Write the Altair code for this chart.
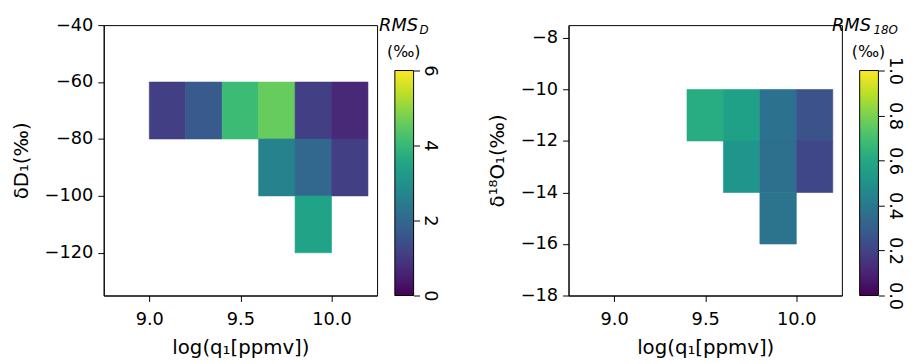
import altair as alt
import pandas as pd

# ---------------- data ----------------
# left panel: bins of log(q1) (lower edge), deltaD1 (lower edge), RMS_D
q_left = [9.0, 9.2, 9.4, 9.6, 9.8, 10.0, 9.6, 9.8, 10.0, 9.8]
dD_left = [-80, -80, -80, -80, -80, -80, -100, -100, -100, -120]
rms_D = [1.1, 1.67, 4.1, 4.6, 1.1, 0.67, 2.67, 1.97, 1.1, 3.47]

# right panel: bins of log(q1) (lower edge), delta18O1 (lower edge), RMS_18O
q_right = [9.4, 9.6, 9.8, 10.0, 9.6, 9.8, 10.0, 9.8]
d18O_right = [-12, -12, -12, -12, -14, -14, -14, -16]
rms_18O = [0.62, 0.57, 0.376, 0.252, 0.52, 0.368, 0.21, 0.38]

q_bin = 0.2
dD_bin = 20
d18O_bin = 2

x_ticks = [9.0, 9.5, 10.0]
dD_ticks = [-40, -60, -80, -100, -120]
d18O_ticks = [-8, -10, -12, -14, -16, -18]
cb_ticks_D = [0, 2, 4, 6]
cb_ticks_O = [0.0, 0.2, 0.4, 0.6, 0.8, 1.0]

viridis = ["#440154", "#482475", "#414487", "#355f8d", "#2a788e", "#21918c",
           "#22a884", "#44bf70", "#7ad151", "#bddf26", "#fde725"]

FONT = "DejaVu Sans"
W, H = 277, 274


def panel(q, d, rms, dbin, ydom, yticks, ytitle, cdom, cticks, cfmt, sub,
          rms_x, sub_x):
    df = pd.DataFrame({"q": q, "d": d, "rms": rms})
    df["q2"] = df["q"] + q_bin
    df["d2"] = df["d"] + dbin

    cscale = alt.Scale(scheme="viridis", domain=cdom)
    heat = alt.Chart(df).mark_rect(strokeWidth=0.6).encode(
        x=alt.X("q:Q",
                scale=alt.Scale(domain=[8.75, 10.25], nice=False, zero=False),
                axis=alt.Axis(values=x_ticks, format=".1f",
                              title="log(q₁[ppmv])", labelPadding=9,
                              titlePadding=10)),
        x2="q2:Q",
        y=alt.Y("d:Q",
                scale=alt.Scale(domain=ydom, nice=False, zero=False),
                axis=alt.Axis(values=yticks, title=ytitle, orient="left",
                              labelPadding=5, titlePadding=13)),
        y2="d2:Q",
        color=alt.Color("rms:Q", scale=cscale, legend=None),
        stroke=alt.Stroke("rms:Q", scale=cscale, legend=None),
    )

    grad = alt.Gradient(
        gradient="linear",
        stops=[alt.GradientStop(color=c, offset=i / (len(viridis) - 1))
               for i, c in enumerate(viridis)],
        x1=0, y1=1, x2=0, y2=0,
    )
    cbdf = pd.DataFrame({"lo": [cdom[0]], "hi": [cdom[1]]})
    cbase = alt.Chart(cbdf)
    cbar = cbase.mark_rect(fill=grad, stroke="black", strokeWidth=1).encode(
        x=alt.XDatum(0, scale=alt.Scale(domain=[0, 1], range=[295, 314]),
                     axis=None),
        x2=alt.X2Datum(1),
        y=alt.Y("lo:Q",
                scale=alt.Scale(domain=cdom, range=[274, 46], nice=False,
                                zero=False),
                axis=alt.Axis(orient="right", offset=37, values=cticks,
                              format=cfmt, labelAngle=90, title=None,
                              domain=False, labelAlign="center",
                              labelBaseline="bottom", labelPadding=1)),
        y2="hi:Q",
    )

    t_rms = cbase.mark_text(text="RMS", font=FONT, fontSize=18,
                            fontStyle="italic", align="left",
                            baseline="alphabetic").encode(
        x=alt.value(rms_x), y=alt.value(6))
    t_sub = cbase.mark_text(text=sub, font=FONT, fontSize=12,
                            fontStyle="italic", align="left",
                            baseline="alphabetic").encode(
        x=alt.value(sub_x), y=alt.value(9))
    t_unit = cbase.mark_text(text="(‰)", font=FONT, fontSize=16,
                             align="center", baseline="alphabetic").encode(
        x=alt.value(304), y=alt.value(32))

    return alt.layer(heat, cbar, t_rms, t_sub, t_unit).resolve_scale(
        x="independent", y="independent"
    ).properties(width=W, height=H)


left = panel(q_left, dD_left, rms_D, dD_bin, [-135, -40], dD_ticks,
             "δD₁(‰)", [0, 6], cb_ticks_D, "d", "D", 279, 320)
right = panel(q_right, d18O_right, rms_18O, d18O_bin, [-18, -7.5],
              d18O_ticks, "δ¹⁸O₁(‰)", [0, 1], cb_ticks_O, ".1f", "18O",
              267, 309)

chart = alt.hconcat(left, right, spacing=48).resolve_scale(
    color="independent", stroke="independent"
).properties(
    padding={"left": 3, "top": 5, "right": 5, "bottom": 0}
).configure_view(
    stroke="black", strokeWidth=1
).configure_axis(
    labelFont=FONT, titleFont=FONT, labelFontSize=18, titleFontSize=20,
    titleFontWeight="normal", labelColor="black", titleColor="black",
    domainColor="black", tickColor="black", tickSize=6, grid=False,
)

chart.save("out.html", embed_options={"renderer": "svg", "actions": False})
